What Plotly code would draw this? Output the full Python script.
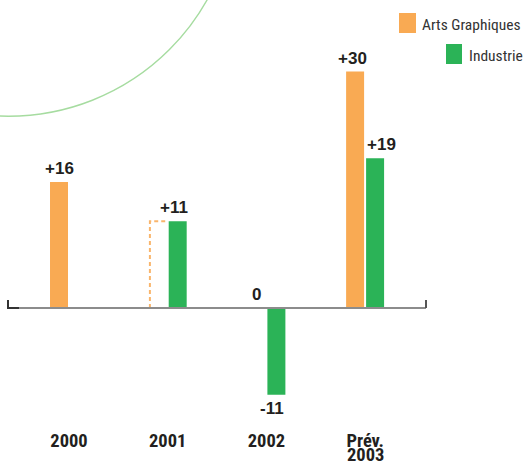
import plotly.graph_objects as go

# ---------------- data ----------------
categories = ["2000", "2001", "2002", "Prév.\n2003"]
series_names = ["Arts Graphiques", "Industrie"]
arts_graphiques = [16, None, 0, 30]
industrie = [None, 11, -11, 19]
arts_2001_estimate = 11          # shown as a dashed outline in 2001
estimate_category = "2001"

# ---------------- style ----------------
ORANGE = "#F9AA53"
ORANGE_DASH = "#F9B56C"
GREEN = "#2BB357"
CURVE = "#A6DCA0"
TEXT = "#231F20"
COND = "Roboto Condensed, Open Sans Condensed, sans-serif"
BOLD = "Liberation Sans, Arial, sans-serif"
# small horizontal nudges (pixels) of the value labels, per series
LABEL_XSHIFT = [[0, 0, 0, -2.5], [0, -4, -4.5, 6]]

FIG_W, FIG_H = 523, 465
M_L, M_R, M_T, M_B = 8, 97, 30, 47
PLOT_W = FIG_W - M_L - M_R
PLOT_H = FIG_H - M_T - M_B
ZERO_PX = 308
PX_PER_UNIT = 7.88
Y_RANGE = [-(M_T + PLOT_H - ZERO_PX) / PX_PER_UNIT, (ZERO_PX - M_T) / PX_PER_UNIT]
X_RANGE = [-0.618, 3.617]
BARGAP, BARGROUPGAP = 0.595, 0.1
SLOT = (1 - BARGAP) / 2
CAT_FONT = dict(family=COND, size=18.5, color=TEXT, weight="bold")

def px_x(p):
    return (p - M_L) / PLOT_W

def px_y(p):
    return (M_T + PLOT_H - p) / PLOT_H

idx = list(range(len(categories)))

fig = go.Figure()
fig.add_trace(go.Bar(x=idx, y=arts_graphiques, name=series_names[0],
                     marker=dict(color=ORANGE, line=dict(width=0)), showlegend=False))
fig.add_trace(go.Bar(x=idx, y=industrie, name=series_names[1],
                     marker=dict(color=GREEN, line=dict(width=0)), showlegend=False))

# dashed outline for the 2001 estimate
ei = categories.index(estimate_category)
left = ei - SLOT + SLOT * BARGROUPGAP / 2 + 0.012
right = ei - SLOT * BARGROUPGAP / 2 - 0.012
fig.add_trace(go.Scatter(x=[left, left, right], y=[0, arts_2001_estimate, arts_2001_estimate],
                         mode="lines", line=dict(color=ORANGE_DASH, width=2, dash="4px,3px"),
                         showlegend=False, hoverinfo="skip"))

annotations = []
def fmt(v):
    return "0" if v == 0 else f"{v:+d}"

for s, (series, off) in enumerate(((arts_graphiques, -SLOT / 2), (industrie, SLOT / 2))):
    for i, v in enumerate(series):
        if v is None:
            continue
        annotations.append(dict(
            x=i + off, y=v, xref="x", yref="y", text=fmt(v), showarrow=False,
            xshift=LABEL_XSHIFT[s][i],
            yanchor="bottom" if v >= 0 else "top", yshift=2 if v >= 0 else -2,
            font=dict(family=BOLD, size=17, color=TEXT, weight="bold")))

# extra lines of category labels (first line is the tick label)
for i, c in enumerate(categories):
    for k, line in enumerate(c.split("\n")[1:], start=1):
        annotations.append(dict(
            x=i, y=0, xref="x", yref="paper", text=line, showarrow=False,
            yanchor="top", yshift=-7 - 18 * k, borderpad=0, font=CAT_FONT))

# manual legend
leg = [
    (series_names[0], ORANGE, (399, 13, 416, 33), 420, 25),
    (series_names[1], GREEN, (446, 44, 462, 64), 467, 56),
]
shapes = []
for name, col, (x0, y0, x1, y1), tx, ty in leg:
    shapes.append(dict(type="rect", xref="paper", yref="paper",
                       x0=px_x(x0), x1=px_x(x1), y0=px_y(y1), y1=px_y(y0),
                       fillcolor=col, line=dict(width=0)))
    annotations.append(dict(x=px_x(tx), y=px_y(ty), xref="paper", yref="paper",
                            xanchor="left", yanchor="middle", text=name, showarrow=False,
                            font=dict(family=COND, size=15.5, color="#333333")))

# decorative arc
cx, cy, r = 8.6, -111.3, 227.5
shapes.append(dict(type="circle", xref="paper", yref="paper", layer="below",
                   x0=px_x(cx - r), x1=px_x(cx + r), y0=px_y(cy + r), y1=px_y(cy - r),
                   line=dict(color=CURVE, width=1.4)))

# baseline axis with end ticks
tick_h = 8 / PX_PER_UNIT
shapes.append(dict(type="line", xref="paper", yref="y", x0=0, x1=1, y0=0, y1=0,
                   line=dict(color="#8C8C8C", width=2)))
shapes.append(dict(type="path", xref="paper", yref="y",
                   path=f"M 0 {tick_h} L 0 0 L {11 / PLOT_W} 0",
                   line=dict(color="#333333", width=2)))
shapes.append(dict(type="path", xref="paper", yref="y",
                   path=f"M 1 {tick_h} L 1 0",
                   line=dict(color="#555555", width=2)))

fig.update_layout(
    width=FIG_W, height=FIG_H,
    margin=dict(l=M_L, r=M_R, t=M_T, b=M_B, pad=0),
    paper_bgcolor="white", plot_bgcolor="white",
    barmode="group", bargap=BARGAP, bargroupgap=BARGROUPGAP,
    showlegend=False,
    annotations=annotations, shapes=shapes,
    xaxis=dict(range=X_RANGE, tickvals=idx, ticktext=[c.split("\n")[0] for c in categories],
               showgrid=False, zeroline=False, showline=False, ticks="",
               ticklabelstandoff=9, tickfont=CAT_FONT),
    yaxis=dict(range=Y_RANGE, visible=False, showgrid=False, zeroline=False),
)

fig.write_html("out.html", config={"displayModeBar": False},
               post_script="document.body.style.margin='0';document.body.style.overflow='hidden';")
